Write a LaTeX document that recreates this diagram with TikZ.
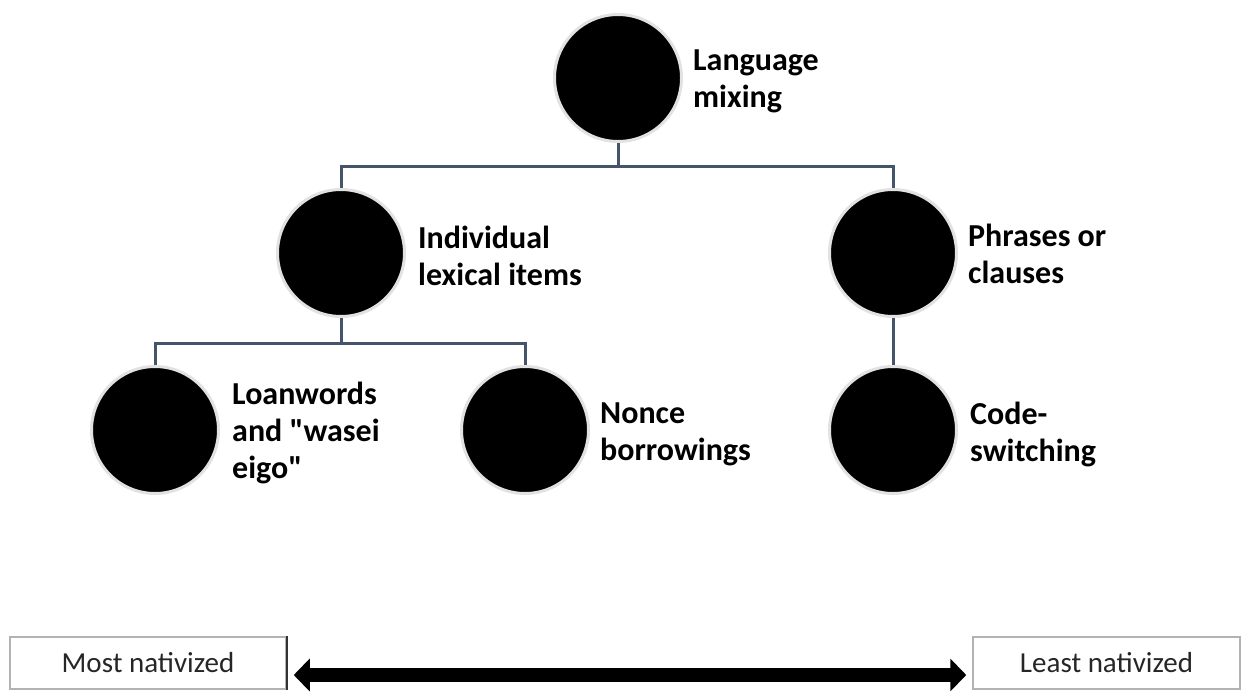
\documentclass[tikz,border=0pt]{standalone}
\usepackage{fontspec}
\setmainfont{Carlito}[Ligatures=TeXOff]
\usetikzlibrary{arrows.meta}
\definecolor{conn}{HTML}{44546A}
\definecolor{ring}{HTML}{E2E2E2}
\tikzset{
  dot/.style={circle, fill=black, draw=ring, line width=3pt, minimum size=127pt, inner sep=0pt},
  lbl/.style={anchor=west, align=left, inner sep=0pt, font=\fontsize{32}{37}\selectfont\bfseries},
  link/.style={draw=conn, line width=3pt},
  endbox/.style={draw=gray!60, line width=1.5pt, minimum width=276pt, minimum height=52pt, inner sep=0pt, text=black!85, font=\fontsize{29}{34}\selectfont},
  bigarrow/.style={line width=14pt, {Triangle[length=16pt,width=32pt]}-{Triangle[length=16pt,width=32pt]}}
}
\begin{document}
\begin{tikzpicture}[x=1pt,y=-1pt]
\useasboundingbox (0,0) rectangle (1242,691);
% circles
\node[dot] (top) at (618,78) {};
\node[dot] (L) at (341,253) {};
\node[dot] (R) at (893,253) {};
\node[dot] (LL) at (155,430) {};
\node[dot] (LM) at (525,430) {};
\node[dot] (RR) at (893,430) {};
% labels
\node[lbl] (tl) at (693,81) {Language\\mixing};
\node[lbl] (Ll) at (418,256) {Individual\\lexical items};
\node[lbl] (Rl) at (968,254) {Phrases or\\clauses};
\node[lbl] (LLl) at (232,433) {Loanwords\\and {\char34}wasei\\eigo{\char34}};
\node[lbl] (LMl) at (600,434) {Nonce\\borrowings};
\node[lbl] (RRl) at (970,434) {Code-\\switching};
% connectors
\coordinate (b1) at (618,166);
\coordinate (b2) at (341,343);
\draw[link] (top.south) -- (b1);
\draw[link] (L.north) |- (b1) -| (R.north);
\draw[link] (L.south) -- (b2);
\draw[link] (LL.north) |- (b2) -| (LM.north);
\draw[link] (R.south) -- (RR.north);
% bottom scale
\node[endbox] (most) at (148,663) {Most nativized};
\node[endbox, minimum width=267pt] (least) at (1106.5,663) {Least nativized};
\draw[draw=gray!40!black, line width=2pt] (most.north east) -- (most.south east);
\draw[bigarrow] ([xshift=7pt,yshift=-12pt]most.east) -- ([xshift=-6pt,yshift=-12pt]least.west);
\end{tikzpicture}
\end{document}
